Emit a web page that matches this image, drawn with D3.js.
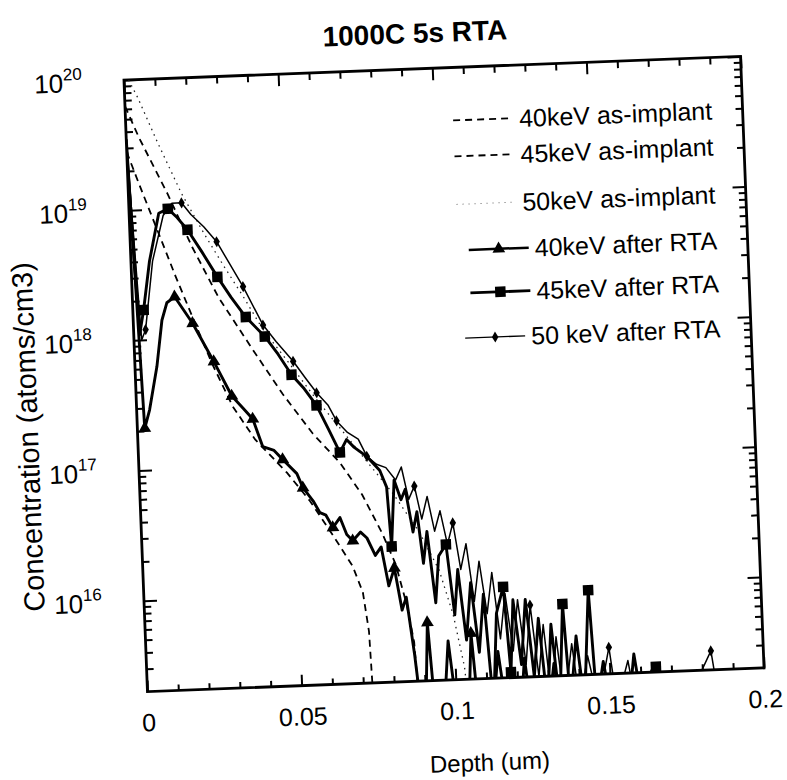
<!DOCTYPE html>
<html>
<head>
<meta charset="utf-8">
<script src="https://cdn.jsdelivr.net/npm/d3@7"></script>
<style>
  body { margin: 0; background: #fff; }
  text { font-family: "Liberation Sans", Arial, sans-serif; fill: #000; }
</style>
</head>
<body>
<svg id="chart" width="787" height="780"></svg>
<script>
// ---- data (depth in um, concentration in atoms/cm3) ----
const xMajorTicks = [0, 0.05, 0.1, 0.15, 0.2]
const xTickLabels = ['0', '0.05', '0.1', '0.15', '0.2']
const yDecades = [16, 17, 18, 19, 20]
const legendLabels = ['40keV as-implant', '45keV as-implant', '50keV as-implant',
                      '40keV after RTA', '45keV after RTA', '50 keV after RTA']

const asImplant40 = [[0, 2.8e19], [0.0035, 1.6e19], [0.0123, 4.1e18], [0.0143, 3.0e18], [0.020, 1.3e18],
  [0.025, 6.3e17], [0.0312, 2.9e17], [0.038, 1.6e17], [0.0479, 8.7e16], [0.055, 5.2e16], [0.062, 2.8e16],
  [0.068, 1.6e16], [0.071, 1.0e16], [0.0725, 5.0e15], [0.0732, 1.2e15]]

const asImplant45 = [[0, 6.3e19], [0.0041, 3.6e19], [0.0127, 1.3e19], [0.020, 5.0e18], [0.028, 2.0e18],
  [0.0384, 7.8e17], [0.0475, 3.5e17], [0.0568, 1.7e17], [0.0652, 1.0e17], [0.072, 5.6e16], [0.078, 2.8e16],
  [0.082, 1.6e16], [0.085, 7.9e15], [0.087, 4.0e15], [0.088, 1.2e15]]

const asImplant50 = [[0.0015, 1.0e20], [0.0043, 7.2e19], [0.0102, 3.2e19], [0.0172, 1.3e19], [0.024, 6.3e18],
  [0.030, 3.5e18], [0.036, 2.0e18], [0.042, 1.1e18], [0.050, 6.0e17], [0.058, 3.2e17], [0.066, 1.8e17],
  [0.074, 1.0e17], [0.082, 5.6e16], [0.090, 2.8e16], [0.096, 1.4e16], [0.100, 6.3e15], [0.103, 2.5e15],
  [0.104, 1.2e15]]

const rta40 = [[0, 3.5e19], [0.0024, 2.1e17], [0.0042, 2.9e17], [0.0071, 6.2e17], [0.0093, 1.4e18],
  [0.0111, 1.9e18], [0.0137, 2.1e18], [0.0192, 1.3e18], [0.0256, 6.5e17], [0.0310, 3.5e17], [0.0345, 2.8e17],
  [0.0375, 2.3e17], [0.0404, 1.4e17], [0.0440, 1.3e17], [0.0467, 1.1e17], [0.0511, 8.5e16], [0.0529, 6.6e16],
  [0.0560, 5.2e16], [0.0581, 4.2e16], [0.0600, 4.0e16], [0.0621, 3.2e16], [0.0645, 3.8e16], [0.0665, 2.8e16],
  [0.0684, 2.5e16], [0.0710, 2.9e16], [0.0730, 2.6e16], [0.0755, 1.9e16], [0.0775, 2.2e16], [0.0795, 1.1e16],
  [0.0815, 1.5e16], [0.0835, 7.1e15], [0.0850, 8.9e15], [0.0870, 3.2e15], [0.0885, 1.2e15], [0.0900, 1.2e15],
  [0.0915, 5.6e15], [0.0930, 1.2e15], [0.0960, 1.2e15], [0.0980, 4.0e15], [0.1000, 1.2e15], [0.1040, 1.2e15],
  [0.1055, 4.5e15], [0.1070, 1.2e15], [0.1120, 1.2e15], [0.1140, 3.2e15], [0.1160, 1.2e15], [0.1210, 1.2e15],
  [0.1225, 2.8e15], [0.1240, 1.2e15], [0.1300, 1.2e15], [0.1320, 2.5e15], [0.1340, 1.2e15]]

const rta45 = [[0, 2.8e19], [0.0019, 1.1e18], [0.0035, 1.7e18], [0.0060, 4.0e18], [0.0096, 9.3e18],
  [0.0126, 1.0e19], [0.0155, 8.5e18], [0.0187, 6.8e18], [0.0230, 4.6e18], [0.0278, 2.9e18], [0.0320, 2.0e18],
  [0.0365, 1.4e18], [0.0424, 9.8e17], [0.0465, 7.1e17], [0.0506, 4.9e17], [0.0545, 3.8e17], [0.0583, 2.8e17],
  [0.0620, 1.8e17], [0.0653, 1.2e17], [0.0676, 1.5e17], [0.0700, 1.3e17], [0.0739, 1.1e17], [0.0780, 8.5e16],
  [0.0800, 6.3e16], [0.0809, 2.2e16], [0.0825, 7.1e16], [0.0845, 5.0e16], [0.0860, 6.0e16], [0.0880, 2.8e16],
  [0.0895, 4.0e16], [0.0910, 1.6e16], [0.0925, 2.8e16], [0.0945, 7.9e15], [0.0960, 1.8e16], [0.0985, 2.2e16],
  [0.1005, 6.3e15], [0.1020, 1.4e16], [0.1040, 4.0e15], [0.1060, 1.1e16], [0.1080, 3.2e15], [0.1100, 8.9e15],
  [0.1120, 1.2e15], [0.1140, 6.3e15], [0.1165, 1.0e16], [0.1180, 2.2e15], [0.1195, 7.9e15], [0.1215, 2.5e15],
  [0.1235, 7.9e15], [0.1255, 2.0e15], [0.1275, 5.6e15], [0.1295, 1.2e15], [0.1315, 5.0e15], [0.1335, 1.2e15],
  [0.1355, 7.1e15], [0.1370, 1.2e15], [0.1395, 4.0e15], [0.1415, 1.2e15], [0.1440, 8.9e15], [0.1455, 1.2e15],
  [0.1480, 2.5e15], [0.1500, 1.2e15], [0.1560, 1.2e15], [0.1580, 2.8e15], [0.1600, 1.2e15], [0.1640, 1.2e15],
  [0.1650, 2.2e15], [0.1670, 1.2e15]]

const rta50 = [[0, 3.2e19], [0.0025, 1.0e18], [0.0039, 1.2e18], [0.0070, 4.0e18], [0.0110, 8.9e18],
  [0.0140, 1.1e19], [0.0171, 1.1e19], [0.0200, 8.9e18], [0.0240, 7.1e18], [0.0280, 5.4e18], [0.0320, 3.6e18],
  [0.0360, 2.4e18], [0.0420, 1.2e18], [0.0460, 8.9e17], [0.0513, 6.2e17], [0.0550, 4.6e17], [0.0585, 3.5e17],
  [0.0620, 2.8e17], [0.0646, 2.1e17], [0.0680, 1.7e17], [0.0714, 1.5e17], [0.0740, 1.1e17], [0.0770, 9.5e16],
  [0.0800, 8.9e16], [0.0830, 7.1e16], [0.0850, 8.9e16], [0.0870, 5.0e16], [0.0890, 6.3e16], [0.0910, 3.5e16],
  [0.0930, 5.2e16], [0.0950, 2.8e16], [0.0970, 4.0e16], [0.0990, 2.2e16], [0.1010, 3.2e16], [0.1030, 1.4e16],
  [0.1050, 2.2e16], [0.1070, 7.9e15], [0.1090, 1.6e16], [0.1110, 6.3e15], [0.1130, 1.3e16], [0.1150, 4.0e15],
  [0.1170, 8.9e15], [0.1190, 3.2e15], [0.1210, 7.9e15], [0.1230, 2.5e15], [0.1250, 7.1e15], [0.1270, 2.0e15],
  [0.1290, 5.0e15], [0.1310, 1.2e15], [0.1330, 4.0e15], [0.1350, 1.2e15], [0.1380, 3.5e15], [0.1400, 1.2e15],
  [0.1430, 2.8e15], [0.1460, 1.2e15], [0.1500, 3.2e15], [0.1520, 1.2e15], [0.1560, 2.5e15], [0.1580, 1.2e15],
  [0.1640, 2.2e15], [0.1660, 1.2e15], [0.1730, 2.0e15], [0.1750, 1.2e15], [0.1830, 2.8e15], [0.1850, 1.2e15],
  [0.1900, 2.0e15], [0.1920, 1.2e15]]

// marker positions (depths) on the after-RTA curves
const rta40Markers = [0.0024, 0.0137, 0.0192, 0.0256, 0.0310, 0.0375, 0.0467, 0.0529, 0.0621, 0.0684, 0.0815, 0.0915, 0.1055]
const rta45Markers = [0.0035, 0.0126, 0.0187, 0.0278, 0.0365, 0.0424, 0.0506, 0.0583, 0.0653, 0.0809, 0.0985, 0.1165, 0.1180, 0.1355, 0.1440, 0.1650]
const rta50Markers = [0.0039, 0.0171, 0.0280, 0.0360, 0.0420, 0.0513, 0.0585, 0.0646, 0.0740, 0.0890, 0.1010, 0.1250, 0.1500, 0.1830]

// ---- layout ----
const plotLeft = 135.5, plotTop = 68, plotW = 617, plotH = 612
const tilt = -2.2   // the scan is slightly rotated

const svg = d3.select('#chart')
svg.append('rect').attr('width', 787).attr('height', 780).attr('fill', '#fff')

const g = svg.append('g')
  .attr('transform', 'rotate(' + tilt + ',' + (plotLeft + plotW / 2) + ',' + (plotTop + plotH / 2) + ')')

const x = d3.scaleLinear().domain([0, 0.2]).range([plotLeft, plotLeft + plotW])
const y = d3.scaleLog().domain([2e15, 1e20]).range([plotTop + plotH, plotTop])

g.append('defs').append('clipPath').attr('id', 'plot-clip')
  .append('rect').attr('x', plotLeft).attr('y', plotTop).attr('width', plotW).attr('height', plotH)

// ---- ticks (all pointing inwards) ----
const xMinor = d3.range(0, 0.2001, 0.01).filter(v => Math.abs(v / 0.05 - Math.round(v / 0.05)) > 1e-6)
const yMinor = []
yDecades.concat([15]).forEach(e => { for (let k = 2; k < 10; k++) { const v = k * Math.pow(10, e); if (v > 2e15 && v < 1e20) yMinor.push(v) } })
const yMajor = yDecades.map(e => Math.pow(10, e))

function styleTicks(sel) {
  sel.select('.domain').remove()
  sel.selectAll('line').attr('stroke', '#000').attr('stroke-width', 2)
}

g.append('g').attr('transform', 'translate(0,' + (plotTop + plotH) + ')')
  .call(d3.axisBottom(x).tickValues(xMinor).tickSize(-6).tickFormat('')).call(styleTicks)
g.append('g').attr('transform', 'translate(0,' + plotTop + ')')
  .call(d3.axisTop(x).tickValues(xMinor).tickSize(-7).tickFormat('')).call(styleTicks)
g.append('g').attr('transform', 'translate(0,' + plotTop + ')')
  .call(d3.axisTop(x).tickValues(xMajorTicks).tickSize(-12).tickFormat('')).call(styleTicks)

const xAxisMajor = g.append('g').attr('transform', 'translate(0,' + (plotTop + plotH) + ')')
  .call(d3.axisBottom(x).tickValues(xMajorTicks).tickSize(-11).tickPadding(22)
    .tickFormat((d, i) => xTickLabels[i]))
  .call(styleTicks)
xAxisMajor.selectAll('text').attr('font-size', 25).attr('fill', '#000')
  .attr('font-family', '"Liberation Sans", Arial, sans-serif')

g.append('g').attr('transform', 'translate(' + plotLeft + ',0)')
  .call(d3.axisLeft(y).tickValues(yMinor).tickSize(-7).tickFormat('')).call(styleTicks)
g.append('g').attr('transform', 'translate(' + plotLeft + ',0)')
  .call(d3.axisLeft(y).tickValues(yMajor).tickSize(-13).tickFormat('')).call(styleTicks)
g.append('g').attr('transform', 'translate(' + (plotLeft + plotW) + ',0)')
  .call(d3.axisRight(y).tickValues(yMinor).tickSize(-7).tickFormat('')).call(styleTicks)
g.append('g').attr('transform', 'translate(' + (plotLeft + plotW) + ',0)')
  .call(d3.axisRight(y).tickValues(yMajor).tickSize(-13).tickFormat('')).call(styleTicks)

// y tick labels 10^n
const yLab = g.append('g').selectAll('text').data(yDecades).enter().append('text')
  .attr('x', plotLeft - 42).attr('y', d => y(Math.pow(10, d)) + 10)
  .attr('text-anchor', 'end').attr('font-size', 26)
yLab.append('tspan').text('10')
yLab.append('tspan').attr('dy', -12).attr('font-size', 17).text(d => d)

// frame
g.append('rect').attr('x', plotLeft).attr('y', plotTop).attr('width', plotW).attr('height', plotH)
  .attr('fill', 'none').attr('stroke', '#000').attr('stroke-width', 2.8)

// ---- curves ----
const line = d3.line().x(d => x(d[0])).y(d => y(d[1]))
const curves = g.append('g').attr('clip-path', 'url(#plot-clip)')

curves.append('path').datum(asImplant40).attr('d', line).attr('fill', 'none')
  .attr('stroke', '#000').attr('stroke-width', 1.8).attr('stroke-dasharray', '7 5')
curves.append('path').datum(asImplant45).attr('d', line).attr('fill', 'none')
  .attr('stroke', '#000').attr('stroke-width', 1.8).attr('stroke-dasharray', '7 5')
curves.append('path').datum(asImplant50).attr('d', line).attr('fill', 'none')
  .attr('stroke', '#222').attr('stroke-width', 1.3).attr('stroke-dasharray', '1.5 4.5')

curves.append('path').datum(rta40).attr('d', line).attr('fill', 'none')
  .attr('stroke', '#000').attr('stroke-width', 2.9).attr('stroke-linejoin', 'round')
curves.append('path').datum(rta45).attr('d', line).attr('fill', 'none')
  .attr('stroke', '#000').attr('stroke-width', 2.9).attr('stroke-linejoin', 'round')
curves.append('path').datum(rta50).attr('d', line).attr('fill', 'none')
  .attr('stroke', '#000').attr('stroke-width', 1.5).attr('stroke-linejoin', 'round')

function valueAt(series, depth) {
  const p = series.find(d => Math.abs(d[0] - depth) < 1e-6)
  return p ? p[1] : null
}
const markerTri = d3.symbol().type(d3.symbolTriangle).size(70)
const markerSq = d3.symbol().type(d3.symbolSquare).size(110)
const markerDia = d3.symbol().type(d3.symbolDiamond).size(36)

function drawMarkers(series, depths, sym) {
  curves.append('g').selectAll('path').data(depths.map(dp => [dp, valueAt(series, dp)]).filter(d => d[1]))
    .enter().append('path')
    .attr('transform', d => 'translate(' + x(d[0]) + ',' + y(d[1]) + ')')
    .attr('d', sym).attr('fill', '#000')
}
drawMarkers(rta40, rta40Markers, markerTri)
drawMarkers(rta45, rta45Markers, markerSq)
drawMarkers(rta50, rta50Markers, markerDia)

// ---- legend ----
const legendRight = 722
const legendRows = [121, 157, 205, 251, 294, 339]
const legendStyles = [
  { dash: '7 5', width: 1.8, sym: null },
  { dash: '7 5', width: 1.8, sym: null },
  { dash: '1.5 4.5', width: 1, sym: null },
  { dash: null, width: 2.5, sym: markerTri },
  { dash: null, width: 2.8, sym: markerSq },
  { dash: null, width: 1.3, sym: markerDia }
]
legendLabels.forEach(function (label, i) {
  const ly = legendRows[i]
  const t = g.append('text').attr('x', legendRight).attr('y', ly + 9)
    .attr('text-anchor', 'end').attr('font-size', 25).text(label)
  const tw = t.node().getComputedTextLength()
  const x1 = legendRight - tw - 66, x2 = legendRight - tw - 6
  const st = legendStyles[i]
  const ln = g.append('line').attr('x1', x1).attr('x2', x2).attr('y1', ly).attr('y2', ly)
    .attr('stroke', i == 2 ? '#999' : '#000').attr('stroke-width', st.width)
  if (st.dash) ln.attr('stroke-dasharray', st.dash)
  if (st.sym) g.append('path').attr('transform', 'translate(' + ((x1 + x2) / 2) + ',' + ly + ')')
    .attr('d', st.sym).attr('fill', '#000')
})

// ---- titles ----
g.append('text').attr('x', 428).attr('y', 42).attr('text-anchor', 'middle')
  .attr('font-size', 28).attr('font-weight', 'bold').text('1000C 5s RTA')
g.append('text').attr('x', 475).attr('y', 772).attr('text-anchor', 'middle')
  .attr('font-size', 24).text('Depth (um)')
g.append('text').attr('transform', 'translate(36,421) rotate(-90)').attr('text-anchor', 'middle')
  .attr('font-size', 29).text('Concentration (atoms/cm3)')
</script>
</body>
</html>
